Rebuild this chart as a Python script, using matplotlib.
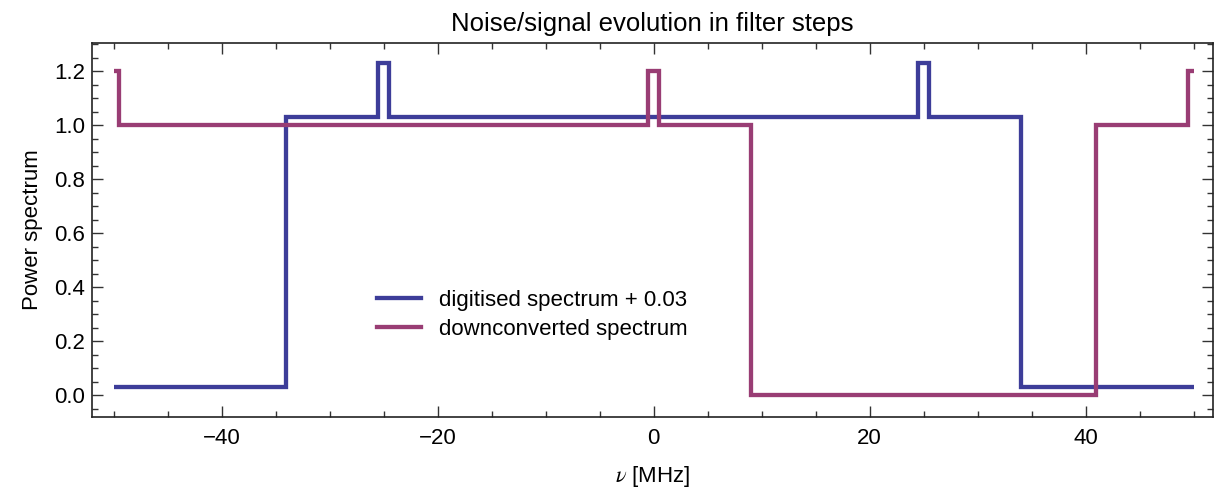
import matplotlib
matplotlib.use("Agg")
import matplotlib.pyplot as plt
from matplotlib.ticker import MultipleLocator
from matplotlib.lines import Line2D

plt.rcParams['font.family'] = ['Liberation Sans', 'DejaVu Sans']
plt.rcParams['mathtext.fontset'] = 'stix'

# Frequency band edges [MHz] and spectrum levels between them
digitised_edges = [-50, -34, -25.5, -24.5, 24.5, 25.5, 34, 50]
digitised_levels = [0.0, 1.0, 1.2, 1.0, 1.2, 1.0, 0.0]
digitised_offset = 0.03

downconv_edges = [-50, -49.5, -0.5, 0.5, 9, 41, 49.5, 50]
downconv_levels = [1.2, 1.0, 1.2, 1.0, 0.0, 1.0, 1.2]

x_ticks = [-40, -20, 0, 20, 40]
y_ticks = [0.0, 0.2, 0.4, 0.6, 0.8, 1.0, 1.2]

blue = '#3D3D99'
magenta = '#993D74'
lw = 3.1

fig = plt.figure(figsize=(12.17, 4.92), dpi=100)
ax = fig.add_axes([0.0756, 0.1524, 0.9211, 0.7602])

ax.stairs([v + digitised_offset for v in digitised_levels], digitised_edges,
          baseline=None, color=blue, lw=lw, joinstyle='miter')
ax.stairs(downconv_levels, downconv_edges,
          baseline=None, color=magenta, lw=lw, joinstyle='miter')

ax.set_xlim(-52, 51.8)
ax.set_ylim(-0.081, 1.304)

ax.set_xticks(x_ticks)
ax.set_xticklabels([f"\u2212{abs(t)}" if t < 0 else f"{t}" for t in x_ticks])
ax.set_yticks(y_ticks)
ax.set_yticklabels([f"{t:.1f}" for t in y_ticks])
ax.xaxis.set_minor_locator(MultipleLocator(5))
ax.yaxis.set_minor_locator(MultipleLocator(0.05))
ax.tick_params(which='both', direction='in', top=True, right=True,
               labelsize=16, width=1.0, color='#333333')
ax.tick_params(axis='x', which='both', pad=8)
ax.tick_params(axis='y', which='both', pad=5)
ax.tick_params(which='major', length=8)
ax.tick_params(which='minor', length=4.5)
for s in ax.spines.values():
    s.set_linewidth(1.2)
    s.set_color('#222222')

ax.set_title("Noise/signal evolution in filter steps", fontsize=18.5, pad=9)
ax.set_ylabel("Power spectrum", fontsize=16, labelpad=8)
ax.set_xlabel(r"$\nu$ [MHz]", fontsize=16, labelpad=11)

handles = [Line2D([], [], color=blue, lw=lw),
           Line2D([], [], color=magenta, lw=lw)]
ax.legend(handles, ["digitised spectrum + 0.03", "downconverted spectrum"],
          loc='center left', bbox_to_anchor=(0.236, 0.273), frameon=False,
          fontsize=16, handlelength=2.0, handletextpad=0.8, labelspacing=0.38)

fig.savefig("out.png", dpi=100)
